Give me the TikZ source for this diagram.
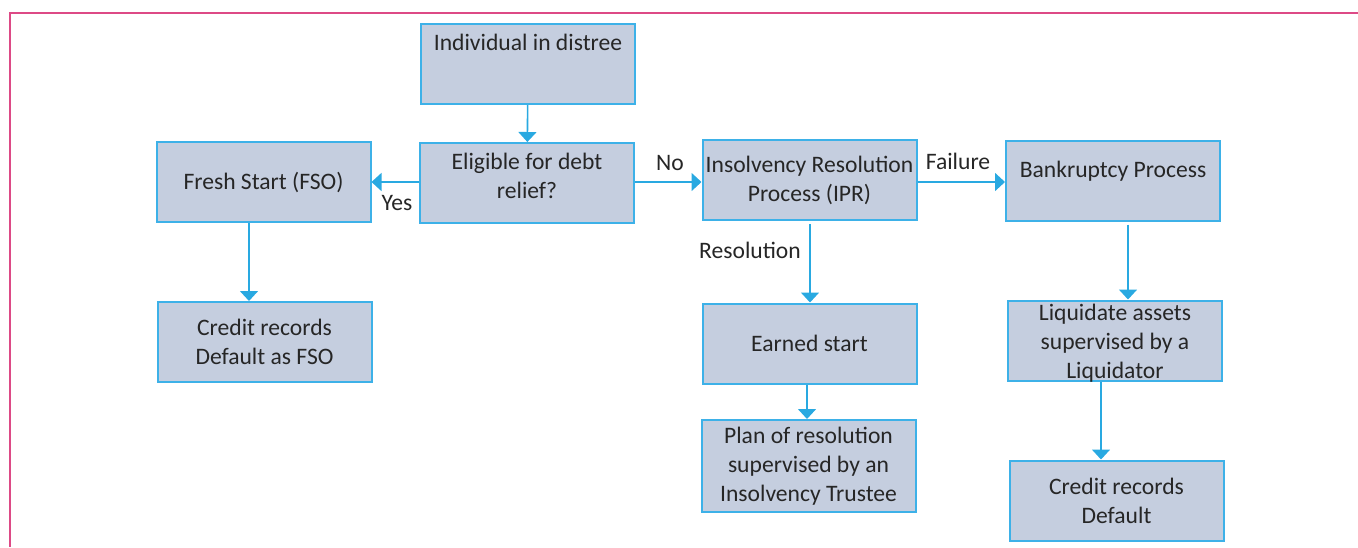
\documentclass[tikz,border=0pt]{standalone}
\usepackage{fontspec}
\setmainfont{Carlito}
\usetikzlibrary{arrows.meta}
\definecolor{boxfill}{HTML}{C5CEDF}
\definecolor{boxline}{HTML}{3DB1E8}
\definecolor{arrcol}{HTML}{29A9E1}
\definecolor{framecol}{HTML}{DD4A86}
\definecolor{txtcol}{HTML}{262626}
\begin{document}
\begin{tikzpicture}[x=0.5pt,y=-0.5pt,
  font=\fontsize{11.8}{14.5}\selectfont, text=txtcol,
  box/.style={draw=boxline, fill=boxfill, line width=1pt, minimum width=107pt, minimum height=40pt, inner sep=0pt, align=center},
  arr/.style={draw=arrcol, line width=0.8pt, -{Triangle[width=9pt,length=5pt]}},
  lbl/.style={inner sep=0pt, text=txtcol}]
\useasboundingbox (0,0) rectangle (1358,547);
\draw[framecol, line width=1pt] (1358,13) -- (10,13) -- (10,547);

\node[box, label={[lbl, anchor=north, yshift=-5.5pt]north:Individual in distree}] (ind) at (528,64) {};
\node[box, label={[lbl, align=center, yshift=3.5pt]center:Eligible for debt\\relief?}] (elig) at (527,183) {};
\node[box] (fresh) at (263.5,182) {Fresh Start (FSO)};
\node[box] (cfso) at (264.5,342) {Credit records\\Default as FSO};
\node[box] (ipr) at (809.5,180) {Insolvency Resolution\\Process (IPR)};
\node[box, label={[lbl, anchor=north, yshift=-10.5pt]north:Bankruptcy Process}] (bank) at (1113,180.5) {};
\node[box] (earn) at (809.5,343.5) {Earned start};
\node[box, minimum height=46pt] (plan) at (808.5,466) {Plan of resolution\\supervised by an\\Insolvency Trustee};
\node[box, label={[lbl, align=center, yshift=-1.5pt]center:Liquidate assets\\supervised by a\\Liquidator}] (liq) at (1115,340.5) {};
\node[box] (cdef) at (1116.5,500.5) {Credit records\\Default};

\coordinate (xf) at (249,0);
\coordinate (xb) at (1128,0);
\coordinate (xl) at (1101,0);
\coordinate (xe) at (807,0);
\coordinate (xi) at (810,0);

\draw[arr] (ind) -- (elig);
\draw[arr] (elig.west |- 0,182) -- (fresh.east |- 0,182);
\draw[arr] (elig.east |- 0,182) -- (ipr.west |- 0,182);
\draw[arr] (ipr.east |- 0,182) -- (bank.west |- 0,182);
\draw[arr] ([yshift=-1.5pt]ipr.south -| xi) -- (earn.north -| xi);
\draw[arr] (earn.south -| xe) -- (plan.north -| xe);
\draw[arr] ([yshift=-1.5pt]bank.south -| xb) -- (liq.north -| xb);
\draw[arr] (liq.south -| xl) -- (cdef.north -| xl);
\draw[arr] (fresh.south -| xf) -- (cfso.north -| xf);

\node[lbl] (yes) at (397,203) {Yes};
\node[lbl] (no) at (670,163) {No};
\node[lbl] (fail) at (958,161) {Failure};
\node[lbl] (res) at (750,250) {Resolution};
\end{tikzpicture}
\end{document}
